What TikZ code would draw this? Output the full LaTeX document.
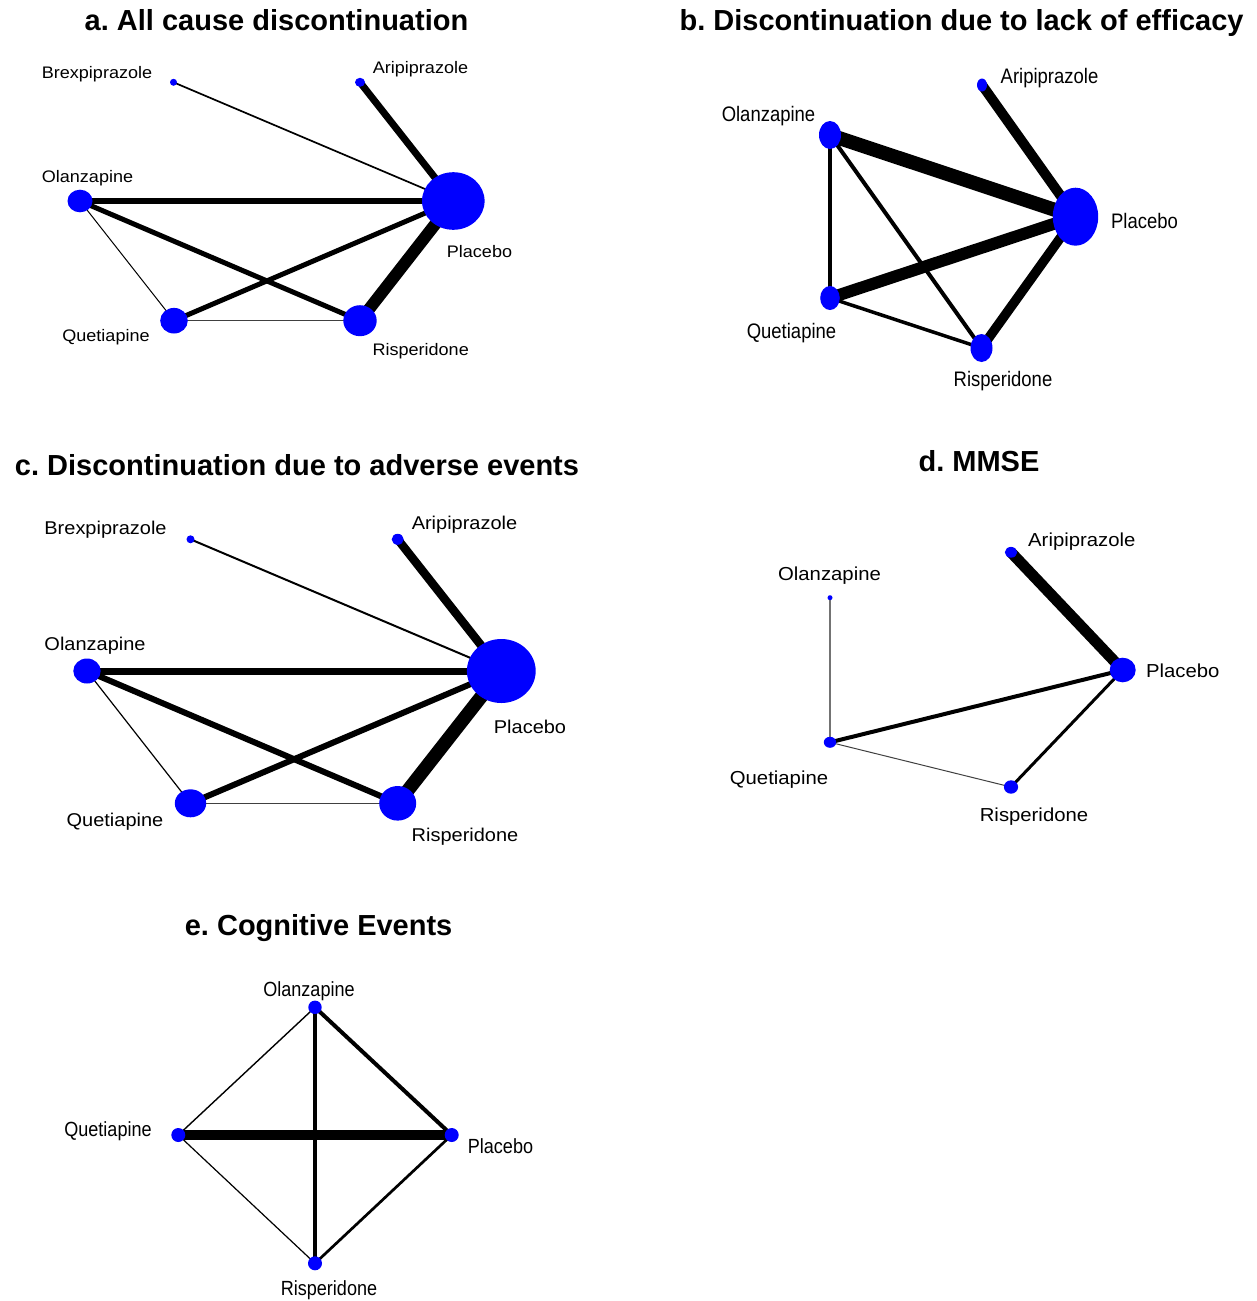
\documentclass[tikz,border=0pt]{standalone}
\usepackage{fontspec}
\setmainfont{Liberation Sans}
\usetikzlibrary{shapes.geometric,backgrounds}
\frenchspacing
\newcommand{\wideTxt}[1]{\scalebox{1.08}[1]{#1}}
\newcommand{\narTxt}[1]{\scalebox{0.88}[1]{#1}}
\tikzset{
  nd/.style 2 args={ellipse, fill=blue, draw=none, inner sep=0pt, minimum width=#1, minimum height=#2},
  ed/.style={line width=#1, black},
  ttl/.style={anchor=base, inner sep=0pt, font=\bfseries\fontsize{29}{32}\selectfont},
  la/.style={anchor=base, inner sep=0pt, font=\fontsize{16.7}{18}\selectfont},
  lb/.style={anchor=base, inner sep=0pt, font=\fontsize{21}{22}\selectfont},
  lc/.style={anchor=base, inner sep=0pt, font=\fontsize{18.5}{20}\selectfont},
  ld/.style={anchor=base, inner sep=0pt, font=\fontsize{18.8}{20}\selectfont},
  le/.style={anchor=base, inner sep=0pt, font=\fontsize{20.5}{22}\selectfont},
}
\begin{document}
\frenchspacing
\begin{tikzpicture}[x=1pt,y=-1pt]
\useasboundingbox (0,0) rectangle (1256,1301);
\begin{scope}[on background layer]
\fill[white] (0,0) rectangle (1256,1301);
\end{scope}

% ---------------- panel a ----------------
\node[ttl] (ta) at (276.5,30) {a. All cause discontinuation};
\node[nd={7pt}{7pt}] (aB) at (173.5,82.3) {};
\node[nd={10pt}{9pt}] (aA) at (360,82.3) {};
\node[nd={25pt}{22.6pt}] (aO) at (80,201) {};
\node[nd={62.6pt}{57.6pt}] (aP) at (453.3,201) {};
\node[nd={27.6pt}{25.6pt}] (aQ) at (174,320.7) {};
\node[nd={33.4pt}{31pt}] (aR) at (360,320.7) {};
\node[la] (laB) at (97,78.3) {\wideTxt{Brexpiprazole}};
\node[la] (laA) at (420.5,73.3) {\wideTxt{Aripiprazole}};
\node[la] (laO) at (87.5,182.7) {\wideTxt{Olanzapine}};
\node[la] (laP) at (479.5,257) {\wideTxt{Placebo}};
\node[la] (laQ) at (106,341.7) {\wideTxt{Quetiapine}};
\node[la] (laR) at (420.7,355) {\wideTxt{Risperidone}};
\begin{scope}[on background layer]
\draw[ed=1.7] (aB.center) -- (aP.center);
\draw[ed=7] (aA.center) -- (aP.center);
\draw[ed=6.5] (aO.center) -- (aP.center);
\draw[ed=5] (aO.center) -- (aR.center);
\draw[ed=1] (aO.center) -- (aQ.center);
\draw[ed=5] (aQ.center) -- (aP.center);
\draw[ed=1.3, black!75] (aQ.center) -- (aR.center);
\draw[ed=12] (aR.center) -- (aP.center);
\end{scope}

% ---------------- panel b ----------------
\node[ttl] (tb) at (961.6,30) {b. Discontinuation due to lack of efficacy};
\node[nd={10pt}{13pt}] (bA) at (982,85) {};
\node[nd={22pt}{28pt}] (bO) at (830,135) {};
\node[nd={45.4pt}{58pt}] (bP) at (1075.5,216.7) {};
\node[nd={19.6pt}{24pt}] (bQ) at (830,298) {};
\node[nd={22pt}{28pt}] (bR) at (981.5,348) {};
\node[lb] (lbA) at (1049.5,83) {\narTxt{Aripiprazole}};
\node[lb] (lbO) at (768.5,121) {\narTxt{Olanzapine}};
\node[lb] (lbP) at (1144.5,228) {\narTxt{Placebo}};
\node[lb] (lbQ) at (791.5,338) {\narTxt{Quetiapine}};
\node[lb] (lbR) at (1003,386) {\narTxt{Risperidone}};
\begin{scope}[on background layer]
\draw[ed=10] (bA.center) -- (bP.center);
\draw[ed=14] (bO.center) -- (bP.center);
\draw[ed=3.5] (bO.center) -- (bQ.center);
\draw[ed=4] (bO.center) -- (bR.center);
\draw[ed=12] (bQ.center) -- (bP.center);
\draw[ed=3.5] (bQ.center) -- (bR.center);
\draw[ed=9.5] (bR.center) -- (bP.center);
\end{scope}

% ---------------- panel c ----------------
\node[ttl] (tc) at (297,475) {c. Discontinuation due to adverse events};
\node[nd={8pt}{8pt}] (cB) at (190.5,539.3) {};
\node[nd={12pt}{11pt}] (cA) at (397.7,539.3) {};
\node[nd={27.4pt}{25pt}] (cO) at (87,671) {};
\node[nd={68.8pt}{64pt}] (cP) at (501.3,671) {};
\node[nd={31.4pt}{28pt}] (cQ) at (190.5,803.3) {};
\node[nd={37pt}{34.6pt}] (cR) at (397.7,803.3) {};
\node[lc] (lcB) at (105.5,534.3) {\wideTxt{Brexpiprazole}};
\node[lc] (lcA) at (464.5,529.3) {\wideTxt{Aripiprazole}};
\node[lc] (lcO) at (95,650) {\wideTxt{Olanzapine}};
\node[lc] (lcP) at (530,733.3) {\wideTxt{Placebo}};
\node[lc] (lcQ) at (115,826) {\wideTxt{Quetiapine}};
\node[lc] (lcR) at (465,841.7) {\wideTxt{Risperidone}};
\begin{scope}[on background layer]
\draw[ed=2] (cB.center) -- (cP.center);
\draw[ed=8.5] (cA.center) -- (cP.center);
\draw[ed=7] (cO.center) -- (cP.center);
\draw[ed=6] (cO.center) -- (cR.center);
\draw[ed=1.2] (cO.center) -- (cQ.center);
\draw[ed=6] (cQ.center) -- (cP.center);
\draw[ed=1.5, black!75] (cQ.center) -- (cR.center);
\draw[ed=13.5] (cR.center) -- (cP.center);
\end{scope}

% ---------------- panel d ----------------
\node[ttl] (td) at (979,471.7) {d. MMSE};
\node[nd={12.4pt}{10.8pt}] (dA) at (1011,552.3) {};
\node[nd={5pt}{5pt}] (dO) at (830,597.7) {};
\node[nd={26pt}{24.6pt}] (dP) at (1122.7,670) {};
\node[nd={12.4pt}{11pt}] (dQ) at (830,742.3) {};
\node[nd={14.2pt}{13.4pt}] (dR) at (1011,787) {};
\node[ld] (ldA) at (1081.8,546.7) {\wideTxt{Aripiprazole}};
\node[ld] (ldO) at (829.5,580) {\wideTxt{Olanzapine}};
\node[ld] (ldP) at (1182.8,677.3) {\wideTxt{Placebo}};
\node[ld] (ldQ) at (779,784.3) {\wideTxt{Quetiapine}};
\node[ld] (ldR) at (1034,821) {\wideTxt{Risperidone}};
\begin{scope}[on background layer]
\draw[ed=11] (dA.center) -- (dP.center);
\draw[ed=1.2, black!55] (dO.center) -- (dQ.center);
\draw[ed=4] (dQ.center) -- (dP.center);
\draw[ed=1, black!75] (dQ.center) -- (dR.center);
\draw[ed=3] (dR.center) -- (dP.center);
\end{scope}

% ---------------- panel e ----------------
\node[ttl] (te) at (318.6,935) {e. Cognitive Events};
\node[nd={13.4pt}{13.4pt}] (eO) at (315,1007.3) {};
\node[nd={14pt}{14pt}] (eQ) at (178.3,1135) {};
\node[nd={14pt}{14pt}] (eP) at (451.7,1135) {};
\node[nd={14pt}{14pt}] (eR) at (315,1263.3) {};
\node[le] (leO) at (309,996.7) {\narTxt{Olanzapine}};
\node[le] (leQ) at (108,1136.7) {\narTxt{Quetiapine}};
\node[le] (leP) at (500.5,1153.3) {\narTxt{Placebo}};
\node[le] (leR) at (329,1295) {\narTxt{Risperidone}};
\begin{scope}[on background layer]
\draw[ed=1.4] (eO.center) -- (eQ.center);
\draw[ed=4.3] (eO.center) -- (eR.center);
\draw[ed=4] (eO.center) -- (eP.center);
\draw[ed=9.3] (eQ.center) -- (eP.center);
\draw[ed=1.2] (eQ.center) -- (eR.center);
\draw[ed=2.7] (eR.center) -- (eP.center);
\end{scope}
\end{tikzpicture}
\end{document}
